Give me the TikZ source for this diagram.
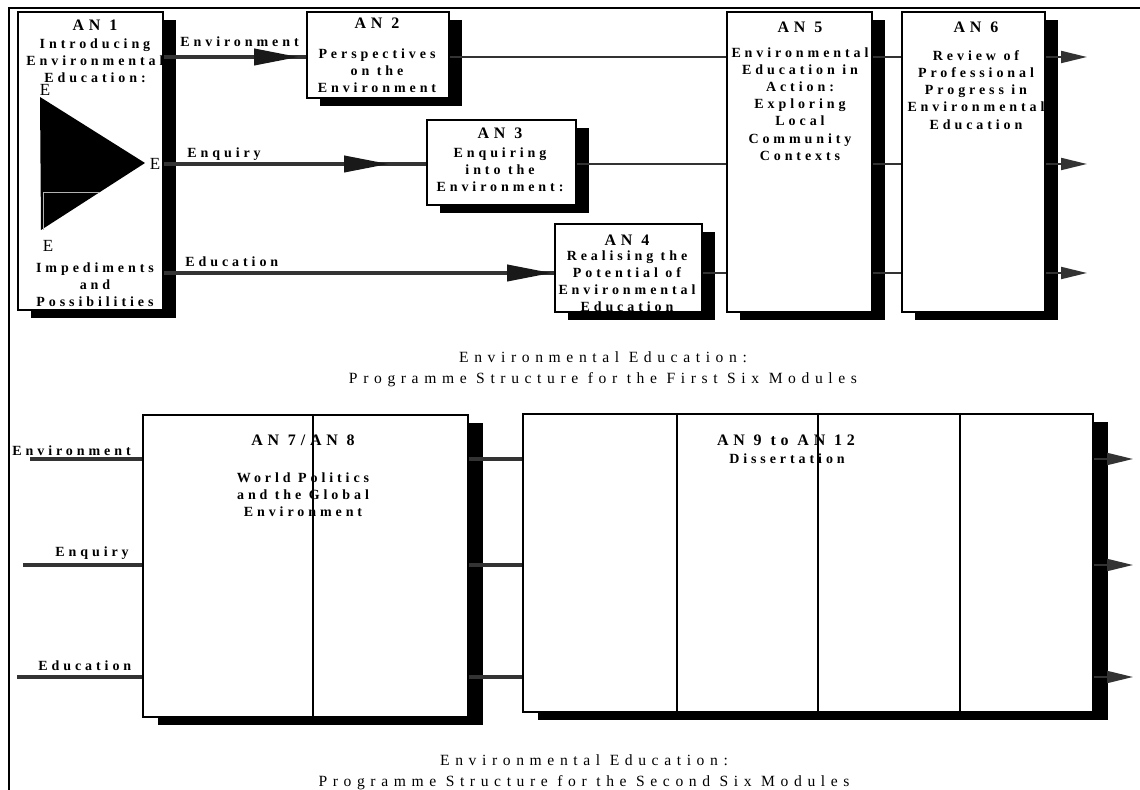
\documentclass[tikz,border=0pt]{standalone}
\usepackage{fontspec}
\setmainfont{Liberation Serif}
\newfontfamily\spacedfont[LetterSpace=28]{Liberation Serif}
\newfontfamily\titlefont[LetterSpace=30]{Liberation Serif}
\newfontfamily\capfont[LetterSpace=36]{Liberation Serif}
\usetikzlibrary{arrows.meta,decorations.markings,shadows,fit}
\tikzset{
  boxbase/.style={draw=black, line width=1pt, fill=white, inner sep=0pt},
  box/.style={boxbase, drop shadow={shadow xshift=6.5pt, shadow yshift=-4pt, opacity=1, fill=black}},
  bigbox/.style={boxbase, drop shadow={shadow xshift=7.5pt, shadow yshift=-4pt, opacity=1, fill=black}},
  titletext/.style={font=\titlefont\bfseries\fontsize{8pt}{9.6pt}\selectfont, inner sep=0pt},
  bodytext/.style={font=\spacedfont\bfseries\fontsize{7pt}{8.6pt}\selectfont, align=center, inner sep=0pt, anchor=north},
  labeltext/.style={font=\spacedfont\bfseries\fontsize{7pt}{8.6pt}\selectfont, inner sep=0pt, anchor=base west},
  captext/.style={font=\capfont\fontsize{7.8pt}{10.5pt}\selectfont, align=center, inner sep=0pt, anchor=north},
  etext/.style={font=\fontsize{8.5pt}{10pt}\selectfont, inner sep=0pt},
  thickflow/.style={draw=black!80, line width=2pt},
  thinflow/.style={draw=black!80, line width=1.3pt},
  flowarrow/.style={postaction={decorate}, decoration={markings, mark=at position #1 with {\arrow[black!90]{Triangle[length=22.5pt,width=8pt]}}}},
  outflow/.style={draw=black!80, line width=1pt, -{Triangle[length=13pt,width=6pt]}},
  divider/.style={draw=black, line width=0.8pt},
  frameline/.style={draw=black, line width=0.8pt}
}
\begin{document}
\begin{tikzpicture}[x=0.5pt,y=-0.5pt]
\useasboundingbox (0,0) rectangle (1140,790);
% outer frame
\draw[frameline] (1140,8) -- (9,8) -- (9,790);

% ---------- first six modules ----------
\node[box, fit={(18,12) (163,310)}] (an1) {};
\node[box, fit={(307,12) (449,98)}] (an2) {};
\node[box, fit={(427,120) (576,205)}] (an3) {};
\node[box, fit={(555,224) (702,312)}] (an4) {};
\node[box, fit={(727,12) (872,312)}] (an5) {};
\node[box, fit={(902,12) (1045,312)}] (an6) {};

% AN1 contents
\node[titletext] (t1) at (95,25) {AN 1};
\node[bodytext] (b1) at (95,38) {Introducing\\Environmental\\Education:};
\node[etext] (e1) at (45,90) {E};
\fill[black] (40,97) -- (145,163) -- (41,230) -- cycle;
\draw[gray!60, line width=0.5pt] (43,230) -- (43,193) -- (100,193);
\node[etext] (e2) at (155,164) {E};
\node[etext] (e3) at (48,246) {E};
\node[bodytext] (b1b) at (95,262) {Impediments\\and\\Possibilities};

% AN2..AN6 contents
\node[titletext] (t2) at (377,23) {AN 2};
\node[bodytext] (b2) at (377,48) {Perspectives\\on the\\Environment};
\node[titletext] (t3) at (500,133) {AN 3};
\node[bodytext] (b3) at (500,147) {Enquiring\\into the\\Environment:};
\node[titletext] (t4) at (627,240) {AN 4};
\node[bodytext] (b4) at (627,250) {Realising the\\Potential of\\Environmental\\Education};
\node[titletext] (t5) at (800,27) {AN 5};
\node[bodytext] (b5) at (800,47) {Environmental\\Education in\\Action:\\Exploring\\Local\\Community\\Contexts};
\node[titletext] (t6) at (976,27) {AN 6};
\node[bodytext] (b6) at (976,50) {Review of\\Professional\\Progress in\\Environmental\\Education};

% rows
\coordinate (r1) at (0,57);
\coordinate (r2) at (0,164);
\coordinate (r3) at (0,273);

\draw[thickflow, flowarrow=-3.5pt] (an1.east |- r1) -- (an2.west |- r1);
\draw[thickflow, flowarrow=-18.5pt] (an1.east |- r2) -- (an3.west |- r2);
\draw[thickflow, flowarrow=-1pt] (an1.east |- r3) -- (an4.west |- r3);
\node[labeltext] (l1) at (180,47) {Environment};
\node[labeltext] (l2) at (187,158) {Enquiry};
\node[labeltext] (l3) at (185,267) {Education};

\draw[thinflow] (an2.east |- r1) -- (an5.west |- r1);
\draw[thinflow] (an3.east |- r2) -- (an5.west |- r2);
\draw[thinflow] (an4.east |- r3) -- (an5.west |- r3);
\draw[thinflow] (an5.east |- r1) -- (an6.west |- r1);
\draw[thinflow] (an5.east |- r2) -- (an6.west |- r2);
\draw[thinflow] (an5.east |- r3) -- (an6.west |- r3);

\coordinate (o1) at (1087,57);
\coordinate (o2) at (1087,164);
\coordinate (o3) at (1087,273);
\draw[outflow] (an6.east |- r1) -- (o1);
\draw[outflow] (an6.east |- r2) -- (o2);
\draw[outflow] (an6.east |- r3) -- (o3);

\node[captext] (cap1) at (603,351) {Environmental Education:\\Programme Structure for the First Six Modules};

% ---------- second six modules ----------
\node[bigbox, fit={(143,415) (468,717)}] (an78) {};
\node[bigbox, fit={(523,414) (1093,712)}] (an912) {};

\node[titletext] (t78) at (303,440) {AN 7/AN 8};
\node[bodytext] (b78) at (303,472) {World Politics\\and the Global\\Environment};
\node[titletext] (t912) at (786,440) {AN 9 to AN 12};
\node[bodytext] (b912) at (787,453) {Dissertation};

\draw[divider] (313,0 |- an78.north) -- (313,0 |- an78.south);
\draw[divider] (677,0 |- an912.north) -- (677,0 |- an912.south);
\draw[divider] (818,0 |- an912.north) -- (818,0 |- an912.south);
\draw[divider] (960,0 |- an912.north) -- (960,0 |- an912.south);

\coordinate (s1) at (0,459);
\coordinate (s2) at (0,565);
\coordinate (s3) at (0,677);
\coordinate (i1) at (30,459);
\coordinate (i2) at (23,565);
\coordinate (i3) at (17,677);

\node[labeltext] (l4) at (12,456) {Environment};
\node[labeltext] (l5) at (55,557) {Enquiry};
\node[labeltext] (l6) at (38,670) {Education};

\draw[thickflow] (i1) -- (an78.west |- s1);
\draw[thickflow] (i2) -- (an78.west |- s2);
\draw[thickflow] (i3) -- (an78.west |- s3);
\draw[thickflow] (an78.east |- s1) -- (an912.west |- s1);
\draw[thickflow] (an78.east |- s2) -- (an912.west |- s2);
\draw[thickflow] (an78.east |- s3) -- (an912.west |- s3);

\coordinate (p1) at (1133,459);
\coordinate (p2) at (1133,565);
\coordinate (p3) at (1133,677);
\draw[outflow] (an912.east |- s1) -- (p1);
\draw[outflow] (an912.east |- s2) -- (p2);
\draw[outflow] (an912.east |- s3) -- (p3);

\node[captext] (cap2) at (584,754) {Environmental Education:\\Programme Structure for the Second Six Modules};
\end{tikzpicture}
\end{document}
